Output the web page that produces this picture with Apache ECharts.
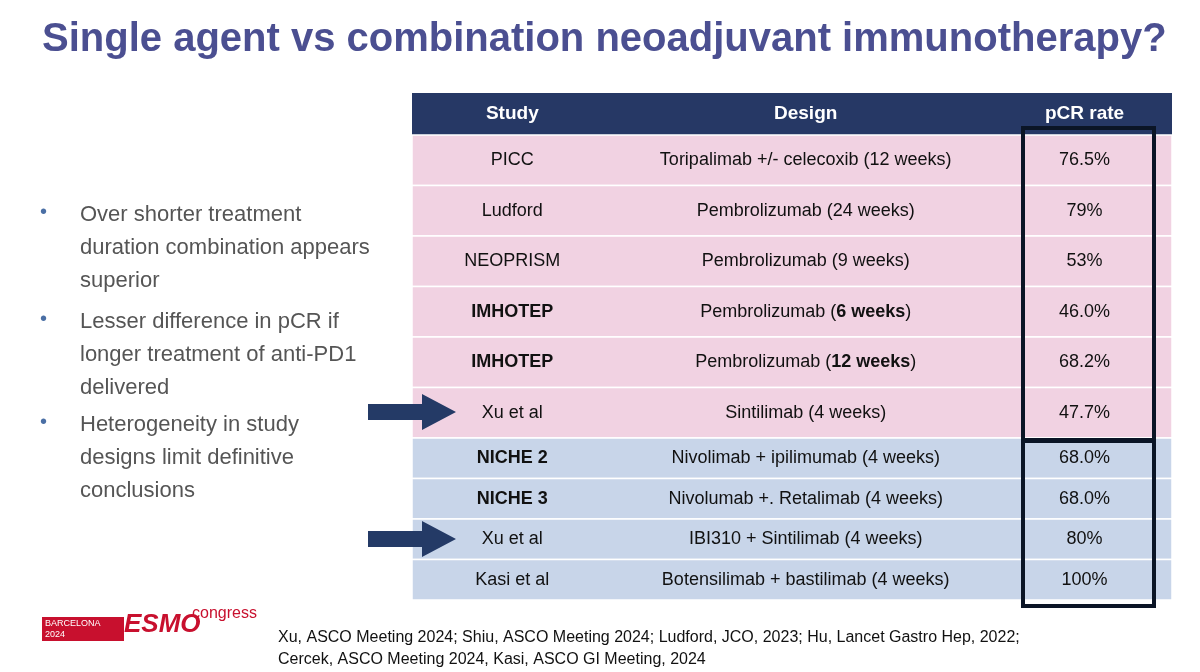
<!DOCTYPE html>
<html><head><meta charset="utf-8">
<script src="https://cdn.jsdelivr.net/npm/echarts@6/dist/echarts.min.js"></script>
<style>html,body{margin:0;padding:0;background:#fff}#c{width:1200px;height:672px}</style>
</head><body><div id="c"></div>
<script>
const studiesA = ['PICC','Ludford','NEOPRISM','IMHOTEP','IMHOTEP','Xu et al'];
const designsA = ['Toripalimab +/- celecoxib (12 weeks)','Pembrolizumab (24 weeks)','Pembrolizumab (9 weeks)','Pembrolizumab ({b|6 weeks})','Pembrolizumab ({b|12 weeks})','Sintilimab (4 weeks)'];
const pcrA = ['76.5%','79%','53%','46.0%','68.2%','47.7%'];
const boldA = [false,false,false,true,true,false];
const studiesB = ['NICHE 2','NICHE 3','Xu et al','Kasi et al'];
const designsB = ['Nivolimab + ipilimumab (4 weeks)','Nivolumab +. Retalimab (4 weeks)','IBI310 + Sintilimab (4 weeks)','Botensilimab + bastilimab (4 weeks)'];
const pcrB = ['68.0%','68.0%','80%','100%'];
const boldB = [true,true,false,false];
const headers = ['Study','Design','pCR rate'];
const bullets = ['Over shorter treatment\nduration combination appears\nsuperior','Lesser difference in pCR if\nlonger treatment of anti-PD1\ndelivered','Heterogeneity in study\ndesigns limit definitive\nconclusions'];

const F = 'Liberation Sans, Arial, sans-serif';
const colX = [0.132, 0.518, 0.885];
function mk(studies, designs, pcr, bold, fill){
  return function(params, api){
    const i = api.value(1);
    const p = api.coord([0, i]);
    const h = api.size([0, 1])[1];
    const cs = params.coordSys;
    const top = p[1] - h/2;
    const ts = {fontFamily:F, fontSize:18, fill:'#111', align:'center', verticalAlign:'middle'};
    return {type:'group', children:[
      {type:'rect', shape:{x:cs.x, y:top, width:cs.width, height:h}, style:{fill:fill, stroke:'#ffffff', lineWidth:1.5}},
      {type:'text', style:Object.assign({}, ts, {x:cs.x+cs.width*colX[0], y:p[1], text:studies[i], fontWeight:bold[i]?'bold':'normal'})},
      {type:'text', style:Object.assign({}, ts, {x:cs.x+cs.width*colX[1], y:p[1], text:designs[i], rich:{b:{fontFamily:F,fontSize:18,fontWeight:'bold',fill:'#111'}}})},
      {type:'text', style:Object.assign({}, ts, {x:cs.x+cs.width*colX[2], y:p[1], text:pcr[i]})}
    ]};
  };
}
const chart = echarts.init(document.getElementById('c'));
const gl = 412, gw = 760;
const bulletGraphics = [];
const by = [198, 305, 408];
bullets.forEach((b,k)=>{
  bulletGraphics.push({type:'text', left:40, top:by[k]+4, style:{text:'•', font:'20px '+F, fill:'#4a6fa5'}});
  bulletGraphics.push({type:'text', left:80, top:by[k], style:{text:b, font:'22px '+F, fill:'#555', lineHeight:33}});
});
chart.setOption({
  animation:false,
  grid:[
    {left:gl, width:gw, top:135, height:303},
    {left:gl, width:gw, top:438, height:162}
  ],
  xAxis:[{type:'value',min:0,max:1,show:false,gridIndex:0},{type:'value',min:0,max:1,show:false,gridIndex:1}],
  yAxis:[
    {type:'category',data:studiesA.map((s,i)=>i),inverse:true,show:false,gridIndex:0},
    {type:'category',data:studiesB.map((s,i)=>i),inverse:true,show:false,gridIndex:1}
  ],
  series:[
    {type:'custom',xAxisIndex:0,yAxisIndex:0,z:1,data:studiesA.map((s,i)=>[0,i]),renderItem:mk(studiesA,designsA,pcrA,boldA,'#f1d2e2')},
    {type:'custom',xAxisIndex:1,yAxisIndex:1,z:1,data:studiesB.map((s,i)=>[0,i]),renderItem:mk(studiesB,designsB,pcrB,boldB,'#c8d5e9')}
  ],
  graphic:{elements:[
    {type:'text', left:42, top:20, style:{text:'Single agent vs combination neoadjuvant immunotherapy?', font:'bold 40px '+F, fill:'#4b4f91'}},
    {type:'rect', shape:{x:gl, y:93, width:gw, height:42}, style:{fill:'#263865'}},
    {type:'text', x:gl+gw*colX[0], y:114, style:{text:headers[0], font:'bold 19px '+F, fill:'#fff', align:'center', verticalAlign:'middle'}},
    {type:'text', x:gl+gw*colX[1], y:114, style:{text:headers[1], font:'bold 19px '+F, fill:'#fff', align:'center', verticalAlign:'middle'}},
    {type:'text', x:gl+gw*colX[2], y:114, style:{text:headers[2], font:'bold 19px '+F, fill:'#fff', align:'center', verticalAlign:'middle'}},
    {type:'rect', z:100, shape:{x:1023, y:128, width:131, height:312}, style:{fill:'none', stroke:'#0b1526', lineWidth:4}},
    {type:'rect', z:100, shape:{x:1023, y:441, width:131, height:165}, style:{fill:'none', stroke:'#0b1526', lineWidth:4}},
    {type:'polygon', z:100, shape:{points:[[368,404],[422,404],[422,394],[456,412],[422,430],[422,420],[368,420]]}, style:{fill:'#243a66'}},
    {type:'polygon', z:100, shape:{points:[[368,531],[422,531],[422,521],[456,539],[422,557],[422,547],[368,547]]}, style:{fill:'#243a66'}},
    ...bulletGraphics,
    {type:'rect', shape:{x:42, y:617, width:82, height:24}, style:{fill:'#c8102e'}},
    {type:'text', left:45, top:618, style:{text:'BARCELONA\n2024', font:'9px '+F, fill:'#fff', lineHeight:11}},
    {type:'text', left:124, top:612, style:{text:'ESMO', font:'bold italic 26px '+F, fill:'#c8102e'}},
    {type:'text', left:192, top:606, style:{text:'congress', font:'16px '+F, fill:'#c8102e'}},
    {type:'text', left:278, top:627, style:{text:'Xu, ASCO Meeting 2024; Shiu, ASCO Meeting 2024; Ludford, JCO, 2023; Hu, Lancet Gastro Hep, 2022;\nCercek, ASCO Meeting 2024, Kasi, ASCO GI Meeting, 2024', font:'16px '+F, fill:'#111', lineHeight:22}}
  ]}
});
</script></body></html>
